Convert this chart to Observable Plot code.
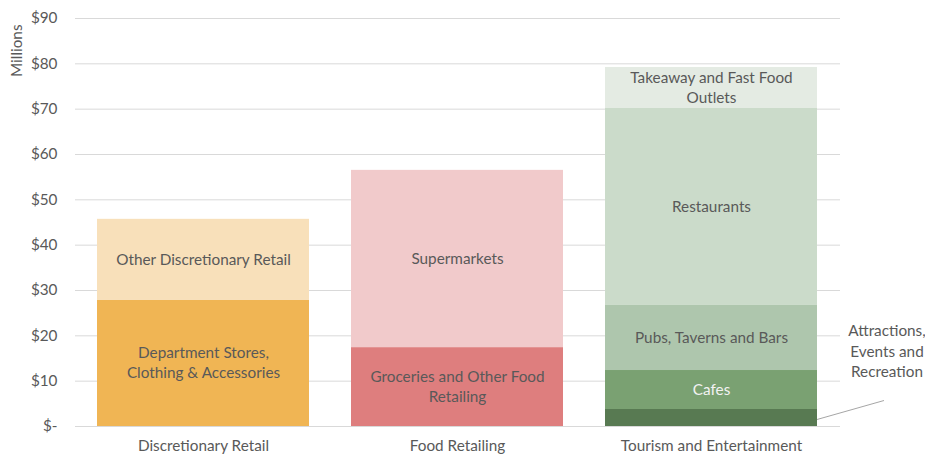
<!DOCTYPE html>
<html>
<head>
<meta charset="utf-8">
<script src="https://cdn.jsdelivr.net/npm/d3@7"></script>
<script src="https://cdn.jsdelivr.net/npm/@observablehq/plot@0.6"></script>
<style>
  html, body { margin: 0; padding: 0; background: #fff; }
  #chart svg { display: block; }
</style>
</head>
<body>
<div id="chart"></div>
<script>
// ---- data ----
const categories = ["Discretionary Retail", "Food Retailing", "Tourism and Entertainment"];
const segmentNames = [
  "Department Stores,\nClothing & Accessories",
  "Other Discretionary Retail",
  "Groceries and Other Food\nRetailing",
  "Supermarkets",
  "Attractions, Events and Recreation",
  "Cafes",
  "Pubs, Taverns and Bars",
  "Restaurants",
  "Takeaway and Fast Food\nOutlets"
];
const segmentCategory = [0, 0, 1, 1, 2, 2, 2, 2, 2];
const segmentValues = [27.8, 17.9, 17.4, 39.1, 3.75, 8.6, 14.35, 43.45, 9.05]; // $ millions
const segmentColors = ["#F0B554", "#F8E0BA", "#DE7E7E", "#F1CACB", "#587A52", "#7AA172", "#AEC6AD", "#CBDBCA", "#E4EBE3"];
const segmentTextColors = ["#595959", "#595959", "#595959", "#595959", "#595959", "#F2F2F2", "#595959", "#595959", "#595959"];
const insideLabel = [true, true, true, true, false, true, true, true, true];
const yTicks = [0, 10, 20, 30, 40, 50, 60, 70, 80, 90];
const annotationText = "Attractions,\nEvents and\nRecreation";
const yAxisTitle = "Millions";

const rows = segmentNames.map((name, i) => ({
  category: categories[segmentCategory[i]],
  name,
  value: segmentValues[i],
  color: segmentColors[i],
  textColor: segmentTextColors[i],
  label: insideLabel[i] ? name : ""
}));

const font = "Lato, 'Open Sans', sans-serif";
const textColor = "#595959";
const fs = 15.3;

// leader line + annotation drawn through the chart's scales
function annotation(index, scales, values, dims) {
  const attr = rows.find(r => r.name === segmentNames[4]);
  const x0 = scales.x(attr.category) + scales.x.bandwidth();
  const yMid = scales.y(attr.value / 2);
  const g = d3.create("svg:g");
  g.append("line")
    .attr("x1", x0).attr("y1", yMid + 2)
    .attr("x2", x0 + 67).attr("y2", yMid - 17)
    .attr("stroke", "#A6A6A6").attr("stroke-width", 1);
  const t = g.append("text")
    .attr("font-family", font).attr("font-size", fs)
    .attr("fill", textColor).attr("text-anchor", "middle");
  const lines = annotationText.split("\n");
  lines.forEach((ln, i) => {
    t.append("tspan").attr("x", x0 + 70).attr("y", scales.y(19.8) + i * 20.5).text(ln);
  });
  return g.node();
}

const chart = Plot.plot({
  width: 925,
  height: 456,
  marginTop: 18,
  marginBottom: 30,
  marginLeft: 75,
  marginRight: 85,
  style: { fontFamily: font, fontSize: fs + "px", color: textColor, background: "#fff" },
  x: { domain: categories, paddingInner: 0.165, paddingOuter: 0.085, label: null },
  y: { domain: [0, 90], label: null },
  marks: [
    Plot.gridY(yTicks, { stroke: "#D9D9D9", strokeOpacity: 1 }),
    Plot.axisY(yTicks, {
      tickSize: 0, tickPadding: 18, fontSize: fs, fill: textColor,
      tickFormat: d => d === 0 ? "$-" : "$" + d
    }),
    Plot.axisX({ tickSize: 0, tickPadding: 14, fontSize: fs, fill: textColor }),
    Plot.barY(rows, Plot.stackY({ x: "category", y: "value", fill: d => d.color })),
    Plot.text(rows, Plot.stackY({
      x: "category", y: "value", text: "label", fill: "textColor",
      fontSize: fs, lineHeight: 1.31, dy: -1.5
    })),
    Plot.text([yAxisTitle], {
      frameAnchor: "top-left", rotate: -90, textAnchor: "end",
      dx: -64, dy: 6, fontSize: fs, fill: textColor
    }),
    annotation
  ]
});
document.getElementById("chart").append(chart);
</script>
</body>
</html>
